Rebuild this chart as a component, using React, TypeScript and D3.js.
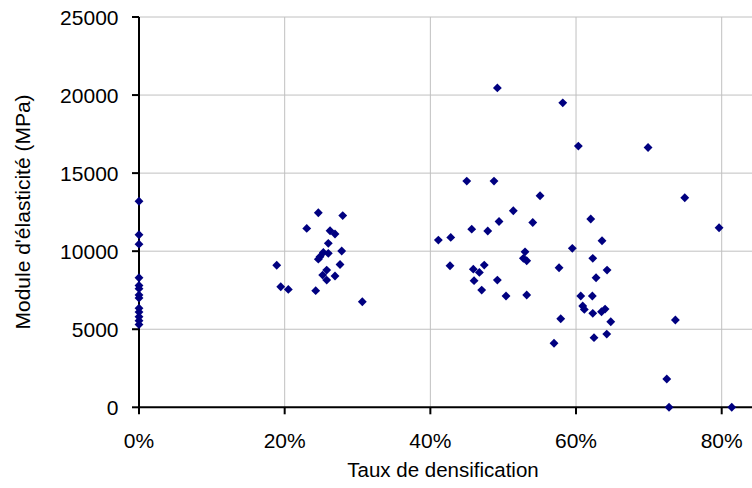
import React from "react";
import * as d3 from "d3";

// Densification rate (fraction) and elastic modulus (MPa)
const densification: number[] = [
  0, 0, 0, 0, 0, 0, 0, 0, 0, 0, 0, 0, 0,
  0.1891, 0.1946, 0.205, 0.2303, 0.2462, 0.2797, 0.2623, 0.2691, 0.2599, 0.2783, 0.2531,
  0.2599, 0.2485, 0.2462, 0.276, 0.2577, 0.2522, 0.2577, 0.2691, 0.2426, 0.3066,
  0.492, 0.45, 0.4874, 0.5506, 0.5139, 0.4943, 0.5406, 0.4568, 0.4788, 0.411, 0.428,
  0.53, 0.5277, 0.5323, 0.427, 0.459, 0.474, 0.4673, 0.46, 0.492, 0.4705, 0.5039, 0.5323,
  0.5818, 0.6032, 0.6202, 0.6357, 0.5949, 0.623, 0.5767, 0.6426, 0.6275, 0.6065, 0.6224,
  0.6092, 0.6114, 0.623, 0.635, 0.6399, 0.6477, 0.579, 0.6422, 0.6247, 0.5698,
  0.6989, 0.7493, 0.7964, 0.7364, 0.7246, 0.7277, 0.8138,
];
const modulus: number[] = [
  13200, 11050, 10450, 8300, 7800, 7600, 7200, 7000, 6350, 6100, 5800, 5550, 5300,
  9100, 7720, 7550, 11460, 12460, 12280, 11310, 11100, 10500, 10010, 9920,
  9860, 9640, 9490, 9150, 8790, 8470, 8150, 8410, 7470, 6760,
  20460, 14490, 14490, 13550, 12590, 11900, 11840, 11410, 11290, 10710, 10880,
  9960, 9540, 9390, 9070, 8850, 9110, 8640, 8110, 8150, 7510, 7130, 7190,
  19500, 16730, 12060, 10670, 10180, 9540, 8940, 8790, 8300, 7130, 7130,
  6490, 6270, 6020, 6120, 6290, 5480, 5670, 4690, 4460, 4100,
  16640, 13420, 11500, 5590, 1810, 0, 0,
];

const xTicks: number[] = [0, 0.2, 0.4, 0.6, 0.8];
const yTicks: number[] = [0, 5000, 10000, 15000, 20000, 25000];
const xTitle = "Taux de densification";
const yTitle = "Module d'élasticité (MPa)";

const W = 752;
const H = 488;
const left = 139;
const top = 17;
const bottom = 407.3;

export default function App() {
  const x = d3.scaleLinear().domain([0, 0.8]).range([left, 721.7]);
  const y = d3.scaleLinear().domain([0, 25000]).range([bottom, top]);
  const fmt = d3.format(".0%");
  const diamond = d3.symbol().type(d3.symbolDiamond2).size(50)();
  const font = "Arial, 'Liberation Sans', sans-serif";

  return (
    <svg
      width={W}
      height={H}
      style={{ position: "fixed", left: 0, top: 0, background: "#fff" }}
      fontFamily={font}
    >
      <rect x={0} y={0} width={W} height={H} fill="#fff" />
      {/* gridlines */}
      {yTicks.filter((t) => t > 0).map((t) => (
        <line key={"gy" + t} x1={left} x2={W + 10} y1={y(t)} y2={y(t)} stroke="#c0c0c0" strokeWidth={1} />
      ))}
      {xTicks.filter((t) => t > 0).map((t) => (
        <line key={"gx" + t} x1={x(t)} x2={x(t)} y1={top} y2={bottom} stroke="#c0c0c0" strokeWidth={1} />
      ))}
      {/* axes */}
      <line x1={left} x2={left} y1={top} y2={bottom + 1} stroke="#000" strokeWidth={2} />
      <line x1={left - 1} x2={W + 10} y1={bottom} y2={bottom} stroke="#000" strokeWidth={2} />
      {yTicks.map((t) => (
        <g key={"ty" + t}>
          <line x1={left - 7} x2={left} y1={y(t)} y2={y(t)} stroke="#000" strokeWidth={2} />
          <text x={118.5} y={y(t)} dy="0.36em" textAnchor="end" fontSize={21} fill="#000">
            {t}
          </text>
        </g>
      ))}
      {xTicks.map((t) => (
        <g key={"tx" + t}>
          <line x1={x(t)} x2={x(t)} y1={bottom} y2={bottom + 7} stroke="#000" strokeWidth={2} />
          <text x={x(t)} y={440} dy="0.36em" textAnchor="middle" fontSize={21} fill="#000">
            {fmt(t)}
          </text>
        </g>
      ))}
      <text x={443} y={470} dy="0.36em" textAnchor="middle" fontSize={20.5} fill="#000">
        {xTitle}
      </text>
      <text
        transform={`translate(22,212) rotate(-90)`}
        dy="0.36em"
        textAnchor="middle"
        fontSize={21}
        fill="#000"
      >
        {yTitle}
      </text>
      {/* points */}
      {densification.map((d, i) => (
        <path key={i} d={diamond || ""} transform={`translate(${x(d)},${y(modulus[i])})`} fill="#000080" />
      ))}
    </svg>
  );
}
